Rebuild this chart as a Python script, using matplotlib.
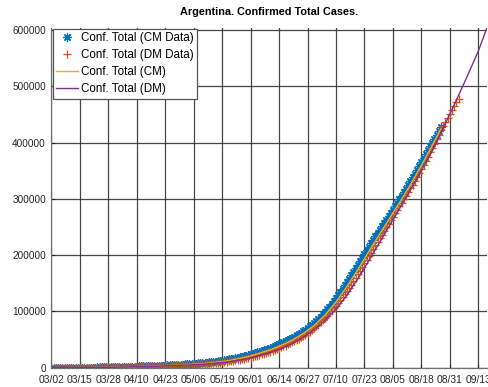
import matplotlib
matplotlib.use("Agg")
from matplotlib import pyplot as plt

# days counted from 03/02
tick_labels = ['03/02', '03/15', '03/28', '04/10', '04/23', '05/06', '05/19', '06/01',
               '06/14', '06/27', '07/10', '07/23', '08/05', '08/18', '08/31', '09/13']
tick_step = 13

# Conf. Total (DM Data), one value per day from day 1
dm_data = [
    1, 1, 2, 8, 12, 12, 17, 19, 19, 31, 34, 45, 56, 68, 79, 97, 128, 158, 225, 266,
    301, 387, 450, 502, 589, 690, 745, 820, 966, 1054,
    1133, 1265, 1353, 1451, 1554, 1628, 1715, 1795, 1894, 1975,
    2142, 2208, 2277, 2443, 2571, 2669, 2758, 2839, 2941, 3031,
    3144, 3288, 3435, 3607, 3780, 3892, 4003, 4127, 4285, 4428,
    4681, 4887, 5020, 5208, 5400, 5611, 5776, 6034, 6278, 6600,
    6879, 7134, 7479, 7805, 8300, 8700, 9100, 9500, 9931, 10400,
    11000, 11600, 12100, 12800, 13500, 14200, 15000, 15800, 16600, 17500,
    18400, 19300, 20300, 21400, 22500, 23600, 24700, 25900, 27200, 28500,
    29900, 31300, 32800, 34400, 36000, 37700, 39400, 41200, 43100, 45000,
    47100, 49200, 51400, 53700, 56000, 58600, 61200, 64000, 67000, 70000,
    73300, 76700, 80300, 84000, 88000, 92200, 96600, 100800, 105300, 110000,
    115000, 120100, 125300, 130600, 136000, 141800, 147700, 153700, 159800, 166000,
    172300, 178700, 185100, 191600, 198000, 204500, 211000, 217400, 223700, 230000,
    236400, 242800, 249200, 255600, 262000, 268100, 274300, 280500, 286700, 293000,
    299300, 305600, 312000, 318400, 325000, 331800, 338700, 345700, 352800, 360000,
    367400, 374900, 382500, 390200, 398000, 405800, 413600, 421500, 429300, 437000,
    444200, 451300, 458200, 465300, 472000, 478000,
]

# Conf. Total (CM Data), one value per day from day 1
cm_data = [
    1, 1, 2, 6, 10, 12, 15, 19, 22, 31, 38, 48, 60, 75, 92, 115, 150, 195, 250, 300,
    370, 440, 520, 600, 700, 800, 900, 1000, 1100, 1200,
    1300, 1400, 1490, 1580, 1670, 1760, 1860, 1960, 2070, 2180,
    2300, 2420, 2550, 2680, 2810, 2950, 3100, 3250, 3400, 3560,
    3720, 3890, 4070, 4250, 4440, 4640, 4850, 5070, 5300, 5540,
    5790, 6050, 6320, 6600, 6900, 7210, 7540, 7890, 8260, 8650,
    9060, 9500, 9960, 10450, 10970, 11520, 12100, 12710, 13350, 14020,
    14720, 15450, 16210, 17000, 17830, 18700, 19610, 20560, 21550, 22580,
    23650, 24760, 25910, 27100, 28330, 29600, 30910, 32260, 33650, 35080,
    36600, 38200, 39900, 41600, 43300, 45100, 46900, 48800, 50800, 52900,
    55100, 57400, 59800, 62300, 64900, 67600, 70400, 73300, 76400, 79700,
    83200, 86900, 90800, 94900, 99200, 103700, 108400, 113300, 118400, 123700,
    129100, 134600, 140200, 146000, 151900, 157900, 164000, 170200, 176500, 182900,
    189300, 195700, 202100, 208500, 214800, 221000, 227100, 233100, 239100, 245000,
    250900, 256800, 262700, 268600, 274600, 280600, 286700, 292800, 299000, 305300,
    311500, 318000, 324600, 331300, 338000, 344800, 351600, 358500, 365400, 372300,
    379200, 386100, 393000, 399900, 406800, 413700, 420600, 427500,
]

# fitted curves
cm_fit_days = [0, 10, 20, 30, 40, 50, 60, 70, 80, 90, 100, 105, 110, 115, 120, 125,
               130, 135, 140, 145, 150, 155, 160, 165, 170, 175, 178]
cm_fit = [0, 40, 250, 1050, 2050, 3250, 4900, 7500, 11800, 19600, 31800, 39600, 49000,
          60500, 74800, 93600, 116800, 144000, 174400, 206400, 237500, 268300, 299100,
          331500, 366100, 402400, 424500]

dm_fit_days = [0, 10, 20, 30, 40, 50, 60, 70, 80, 90, 100, 105, 110, 115, 120, 125,
               130, 135, 140, 145, 150, 155, 160, 165, 170, 175, 180, 185, 190, 195, 199]
dm_fit = [0, 30, 200, 900, 1800, 2900, 4300, 6300, 10000, 16500, 27000, 34000, 43000,
          54000, 67500, 84000, 104000, 129000, 158000, 190000, 223000, 256000, 289000,
          322000, 357000, 394000, 434000, 475000, 518000, 562000, 604000]

blue = '#0072BD'
red = '#D95319'
yellow = '#EDB120'
purple = '#7E2F8E'

plt.rcParams['font.family'] = ['Liberation Sans', 'DejaVu Sans']

fig = plt.figure(figsize=(4.89, 3.87), dpi=100)
ax = fig.add_axes([0.1053, 0.0499, 0.8906, 0.8786])

cm_days = list(range(1, len(cm_data) + 1))
dm_days = list(range(1, len(dm_data) + 1))

ax.plot(cm_days, cm_data, linestyle='none', marker=(8, 2, 0), markersize=6,
        color=blue, markeredgewidth=0.9, label='Conf. Total (CM Data)')
ax.plot(dm_days, dm_data, linestyle='none', marker='+', markersize=6,
        color=red, markeredgewidth=0.9, label='Conf. Total (DM Data)')
ax.plot(cm_fit_days, cm_fit, color=yellow, linewidth=1.0, label='Conf. Total (CM)')
ax.plot(dm_fit_days, dm_fit, color=purple, linewidth=1.0, label='Conf. Total (DM)')

ax.set_xlim(0, 199)
ax.set_ylim(0, 604000)
ax.set_xticks([i * tick_step for i in range(len(tick_labels))])
ax.set_xticklabels(tick_labels)
ax.set_yticks([0, 100000, 200000, 300000, 400000, 500000, 600000])
ax.set_yticklabels(['0', '100000', '200000', '300000', '400000', '500000', '600000'])
ax.tick_params(axis='x', direction='in', length=3, labelsize=7.4, pad=5.5,
               colors='#262626')
ax.tick_params(axis='y', direction='in', length=3, labelsize=7.2, pad=4,
               colors='#262626')
ax.grid(True, color='#333333', linewidth=0.9, alpha=0.9)
ax.set_axisbelow(True)
for side in ['top', 'right']:
    ax.spines[side].set_visible(False)
for side in ['left', 'bottom']:
    ax.spines[side].set_color('#707070')
    ax.spines[side].set_linewidth(0.9)

ax.set_title('Argentina. Confirmed Total Cases.', fontsize=7.8, fontweight='bold',
             pad=9)

leg = ax.legend(loc='upper left', fontsize=8.4, fancybox=False, framealpha=1,
                edgecolor='#555555', borderaxespad=0.1, labelspacing=0.42,
                handlelength=1.9, handletextpad=0.2, borderpad=0.3)
leg.get_frame().set_linewidth(0.9)

fig.savefig('out.png', dpi=100)
